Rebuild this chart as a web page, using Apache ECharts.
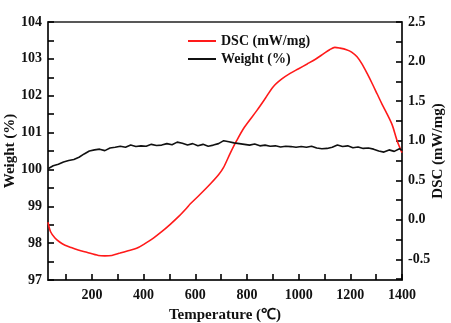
<!DOCTYPE html>
<html>
<head>
<meta charset="utf-8">
<script src="https://cdn.jsdelivr.net/npm/echarts@6/dist/echarts.min.js"></script>
<style>
  html, body { margin: 0; padding: 0; background: #fff; }
  #chart { width: 451px; height: 323px; }
</style>
</head>
<body>
<div id="chart"></div>
<script>
// Weight (%) trace, sampled every 20 °C
var weightTemp = [30,50,70,90,110,130,150,170,190,210,230,250,270,290,310,330,350,370,390,410,
  430,450,470,490,510,530,550,570,590,610,630,650,670,690,710,730,750,770,790,810,
  830,850,870,890,910,930,950,970,990,1010,1030,1050,1070,1090,1110,1130,1150,1170,1190,1210,
  1230,1250,1270,1290,1310,1330,1350,1370,1390,1400];
var weightValue = [100.02,100.10,100.14,100.20,100.24,100.27,100.33,100.42,100.50,100.53,
  100.55,100.51,100.58,100.60,100.63,100.60,100.66,100.62,100.64,100.63,
  100.68,100.65,100.66,100.70,100.67,100.74,100.71,100.66,100.70,100.64,
  100.68,100.63,100.66,100.70,100.78,100.75,100.72,100.70,100.68,100.66,
  100.69,100.64,100.66,100.63,100.64,100.61,100.63,100.62,100.60,100.62,
  100.60,100.63,100.58,100.56,100.57,100.60,100.66,100.62,100.64,100.59,
  100.61,100.57,100.58,100.55,100.50,100.47,100.53,100.49,100.56,100.52];

// DSC (mW/mg) trace
var dscTemp = [30,40,57,75,96,120,147,180,225,250,277,309,340,373,405,438,470,502,535,567,
  580,618,657,690,709,735,760,790,838,870,901,935,967,1000,1033,1065,1097,1120,1140,1160,
  1185,1205,1226,1245,1265,1285,1304,1323,1342,1362,1381,1400];
var dscValue = [-0.03,-0.15,-0.23,-0.28,-0.32,-0.35,-0.38,-0.41,-0.45,-0.455,
  -0.45,-0.42,-0.39,-0.36,-0.30,-0.23,-0.15,-0.06,0.04,0.15,
  0.20,0.32,0.45,0.57,0.66,0.84,1.00,1.17,1.38,1.53,
  1.68,1.78,1.85,1.91,1.97,2.03,2.10,2.15,2.18,2.17,
  2.15,2.12,2.06,1.97,1.85,1.72,1.59,1.46,1.34,1.20,
  1.00,0.85];

// Axis ticks and labels
var tempTicks = [100,200,300,400,500,600,700,800,900,1000,1100,1200,1300,1400];
var tempLabels = [200,400,600,800,1000,1200,1400];
var weightTicks = [97,97.5,98,98.5,99,99.5,100,100.5,101,101.5,102,102.5,103,103.5,104];
var weightLabels = [97,98,99,100,101,102,103,104];
var dscTicks = [-0.75,-0.5,-0.25,0,0.25,0.5,0.75,1,1.25,1.5,1.75,2,2.25,2.5];
var dscLabels = [-0.5,0,0.5,1,1.5,2,2.5];

function pairs(xs, ys) {
  return xs.map(function (x, i) { return [x, ys[i]]; });
}

var FONT = '"Liberation Serif", "Times New Roman", serif';
var AXIS_COLOR = '#222';
function nameStyle() { return { fontFamily: FONT, fontWeight: 'bold', fontSize: 15, color: '#111' }; }
function tickStyle() { return { color: '#000', width: 1.6 }; }

var chart = echarts.init(document.getElementById('chart'));
chart.setOption({
  animation: false,
  grid: {
    left: 48, right: 49, top: 22, bottom: 43, outerBoundsMode: 'none',
    show: true, backgroundColor: 'transparent', borderColor: AXIS_COLOR, borderWidth: 1.5
  },
  legend: {
    orient: 'vertical',
    left: 183,
    top: 29,
    itemWidth: 28,
    itemHeight: 14,
    itemGap: 4,
    icon: 'path://M0,6 L28,6 L28,8 L0,8 Z',
    textStyle: { fontFamily: FONT, fontWeight: 'bold', fontSize: 14, color: '#111' },
    data: ['DSC (mW/mg)', 'Weight (%)']
  },
  xAxis: [
    {
      type: 'value',
      min: 30,
      max: 1400,
      name: 'Temperature (℃)',
      nameLocation: 'middle',
      nameGap: 28,
      nameMoveOverlap: false,
      nameTextStyle: nameStyle(),
      axisLine: { onZero: false, lineStyle: { color: AXIS_COLOR, width: 1.5 } },
      axisTick: { inside: true, length: 6, customValues: tempTicks, lineStyle: tickStyle() },
      axisLabel: {
        customValues: tempLabels, margin: 8,
        fontFamily: FONT, fontWeight: 'bold', fontSize: 14, color: '#111',
        formatter: function (v) { return String(v); }
      },
      splitLine: { show: false }
    }
  ],
  yAxis: [
    {
      type: 'value',
      min: 97,
      max: 104,
      name: 'Weight (%)',
      nameLocation: 'middle',
      nameRotate: 90,
      nameGap: 30,
      nameMoveOverlap: false,
      nameTextStyle: nameStyle(),
      axisLine: { show: true, onZero: false, lineStyle: { color: AXIS_COLOR, width: 1.5 } },
      axisTick: { show: true, inside: true, length: 6, customValues: weightTicks, lineStyle: tickStyle() },
      axisLabel: {
        margin: 6, customValues: weightLabels,
        fontFamily: FONT, fontWeight: 'bold', fontSize: 14, color: '#111',
        formatter: function (v) { return String(v); }
      },
      splitLine: { show: false }
    },
    {
      type: 'value',
      position: 'right',
      min: -0.76,
      max: 2.5,
      name: 'DSC (mW/mg)',
      nameLocation: 'middle',
      nameRotate: 90,
      nameGap: 29,
      nameMoveOverlap: false,
      nameTextStyle: nameStyle(),
      axisLine: { show: true, onZero: false, lineStyle: { color: AXIS_COLOR, width: 1.5 } },
      axisTick: { show: true, inside: true, length: 6, customValues: dscTicks, lineStyle: tickStyle() },
      axisLabel: {
        margin: 6, customValues: dscLabels,
        fontFamily: FONT, fontWeight: 'bold', fontSize: 14, color: '#111',
        formatter: function (v) { return v.toFixed(1); }
      },
      splitLine: { show: false }
    }
  ],
  series: [
    {
      name: 'DSC (mW/mg)',
      type: 'line',
      yAxisIndex: 1,
      data: pairs(dscTemp, dscValue),
      showSymbol: false,
      smooth: 0.3,
      color: '#ff1a1a',
      lineStyle: { color: '#ff1a1a', width: 1.6 }
    },
    {
      name: 'Weight (%)',
      type: 'line',
      yAxisIndex: 0,
      data: pairs(weightTemp, weightValue),
      showSymbol: false,
      color: '#111',
      lineStyle: { color: '#111', width: 1.6 }
    }
  ]
});
</script>
</body>
</html>
